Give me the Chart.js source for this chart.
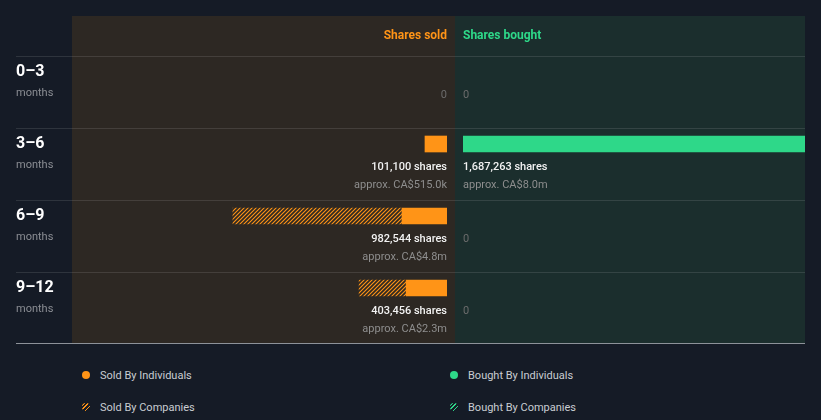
<!DOCTYPE html>
<html><head><meta charset="utf-8">
<script src="https://cdn.jsdelivr.net/npm/chart.js@4.4.0/dist/chart.umd.min.js"></script>
<style>
html,body{margin:0;padding:0;background:#151b26;width:821px;height:420px;overflow:hidden;font-family:Roboto,sans-serif}
#left{position:absolute;left:0;top:0}
#rightWrap{position:absolute;left:455px;top:0;width:350px;height:344px;overflow:hidden}
#right{position:absolute;left:0;top:0}
.lg{position:absolute;font-size:11px;color:#c9cdd2;line-height:14px;white-space:nowrap}
.dot{position:absolute;width:8px;height:8px;border-radius:50%}
</style></head>
<body>
<canvas id="left" width="455" height="344"></canvas>
<div id="rightWrap"><canvas id="right" width="391" height="344"></canvas></div>
<div id="legend"></div>
<script>
// ---- data ----
const periods = ['0–3', '3–6', '6–9', '9–12'];
const periodUnit = 'months';
const soldByIndividuals = [0, 101100, 206600, 187456];
const soldByCompanies = [0, 0, 775944, 216000];
const boughtByIndividuals = [0, 1687263, 0, 0];
const boughtByCompanies = [0, 0, 0, 0];
const soldApprox = ['', 'CA$515.0k', 'CA$4.8m', 'CA$2.3m'];
const boughtApprox = ['', 'CA$8.0m', '', ''];
const legendLabels = ['Sold By Individuals', 'Sold By Companies', 'Bought By Individuals', 'Bought By Companies'];
const axisMax = 1721000;

const ORANGE = '#ff9417';
const GREEN = '#2ed889';

function hatch(color) {
  const c = document.createElement('canvas');
  c.width = 4; c.height = 4;
  const g = c.getContext('2d');
  g.strokeStyle = color; g.lineWidth = 1.1;
  g.beginPath();
  g.moveTo(0, 4); g.lineTo(4, 0);
  g.moveTo(-1, 1); g.lineTo(1, -1);
  g.moveTo(3, 5); g.lineTo(5, 3);
  g.stroke();
  return g.createPattern(c, 'repeat');
}

const nz = arr => arr.map(v => (v ? v : null));

function makeChart(id, side) {
  const isSold = side === 'sold';
  const ind = isSold ? soldByIndividuals : boughtByIndividuals;
  const comp = isSold ? soldByCompanies : boughtByCompanies;
  const approx = isSold ? soldApprox : boughtApprox;
  const color = isSold ? ORANGE : GREEN;
  const panelBg = isSold ? '#2d2823' : '#1b2e2d';

  const plugin = {
    id: 'panel_' + side,
    beforeDraw(chart) {
      const ctx = chart.ctx, ys = chart.scales.y, xs = chart.scales.x;
      const zero = xs.getPixelForValue(0);
      ctx.save();
      ctx.fillStyle = panelBg;
      if (isSold) ctx.fillRect(chart.chartArea.left, 16, zero + 8 - chart.chartArea.left, 327);
      else ctx.fillRect(0, 16, 350, 327);
      ctx.strokeStyle = 'rgba(255,255,255,0.11)';
      ctx.lineWidth = 1;
      periods.forEach((p, i) => {
        const top = Math.round(ys.getPixelForValue(i) - 16) + 0.5;
        ctx.beginPath();
        ctx.moveTo(isSold ? 16 : 0, top);
        ctx.lineTo(isSold ? chart.width : 350, top);
        ctx.stroke();
      });
      ctx.strokeStyle = '#8d9299';
      ctx.beginPath();
      ctx.moveTo(isSold ? 16 : 0, 343.5);
      ctx.lineTo(isSold ? chart.width : 350, 343.5);
      ctx.stroke();
      ctx.restore();
    },
    afterDatasetsDraw(chart) {
      const ctx = chart.ctx, ys = chart.scales.y, xs = chart.scales.x;
      const zero = xs.getPixelForValue(0);
      ctx.save();
      ctx.textBaseline = 'middle';
      ctx.textAlign = isSold ? 'right' : 'left';
      ctx.font = 'bold 12px Roboto';
      ctx.fillStyle = color;
      ctx.fillText(isSold ? 'Shares sold' : 'Shares bought', zero, 36);
      periods.forEach((p, i) => {
        const top = ys.getPixelForValue(i) - 16;
        const total = ind[i] + comp[i];
        if (total === 0) {
          ctx.font = '11px Roboto';
          ctx.fillStyle = '#6c6c6c';
          ctx.fillText('0', zero, top + 39);
        } else {
          ctx.font = '500 11px Roboto';
          ctx.fillStyle = '#f2f2f2';
          ctx.fillText(total.toLocaleString('en-US') + ' shares', zero, top + 39);
          ctx.font = '11px Roboto';
          ctx.fillStyle = '#8e8e8e';
          ctx.fillText('approx. ' + approx[i], zero, top + 57);
        }
        if (isSold) {
          ctx.textAlign = 'left';
          ctx.font = 'bold 16px Roboto';
          ctx.fillStyle = '#ffffff';
          ctx.fillText(p, 16, top + 16);
          ctx.font = '11px Roboto';
          ctx.fillStyle = '#8b8e94';
          ctx.fillText(periodUnit, 16, top + 37);
          ctx.textAlign = 'right';
        }
      });
      ctx.restore();
    }
  };

  return new Chart(document.getElementById(id), {
    type: 'bar',
    data: {
      labels: periods,
      datasets: [
        { label: legendLabels[isSold ? 0 : 2], data: nz(ind), backgroundColor: color, barThickness: 16 },
        { label: legendLabels[isSold ? 1 : 3], data: nz(comp), backgroundColor: hatch(color), barThickness: 16 }
      ]
    },
    options: {
      indexAxis: 'y',
      responsive: false,
      animation: false,
      events: [],
      layout: { padding: isSold ? { left: 72, right: 8, top: 36, bottom: 20 } : { left: 8, right: 8, top: 36, bottom: 20 } },
      plugins: { legend: { display: false }, tooltip: { enabled: false } },
      scales: {
        x: { stacked: true, min: 0, max: axisMax, reverse: isSold, display: false },
        y: { stacked: true, display: false, offset: true }
      }
    },
    plugins: [plugin]
  });
}

makeChart('left', 'sold');
makeChart('right', 'bought');

// legend
const leg = document.getElementById('legend');
const items = [
  { x: 82, y: 375, bg: ORANGE, label: legendLabels[0] },
  { x: 82, y: 407, bg: 'repeating-linear-gradient(-45deg,' + ORANGE + ' 0 1.2px, transparent 1.2px 3px)', label: legendLabels[1] },
  { x: 450, y: 375, bg: GREEN, label: legendLabels[2] },
  { x: 450, y: 407, bg: 'repeating-linear-gradient(-45deg,' + GREEN + ' 0 1.2px, transparent 1.2px 3px)', label: legendLabels[3] }
];
items.forEach(it => {
  const d = document.createElement('div');
  d.className = 'dot';
  d.style.left = it.x + 'px'; d.style.top = (it.y - 4) + 'px';
  d.style.background = it.bg;
  leg.appendChild(d);
  const t = document.createElement('div');
  t.className = 'lg';
  t.style.left = (it.x + 18) + 'px'; t.style.top = (it.y - 6) + 'px';
  t.textContent = it.label;
  leg.appendChild(t);
});
</script>
</body></html>
